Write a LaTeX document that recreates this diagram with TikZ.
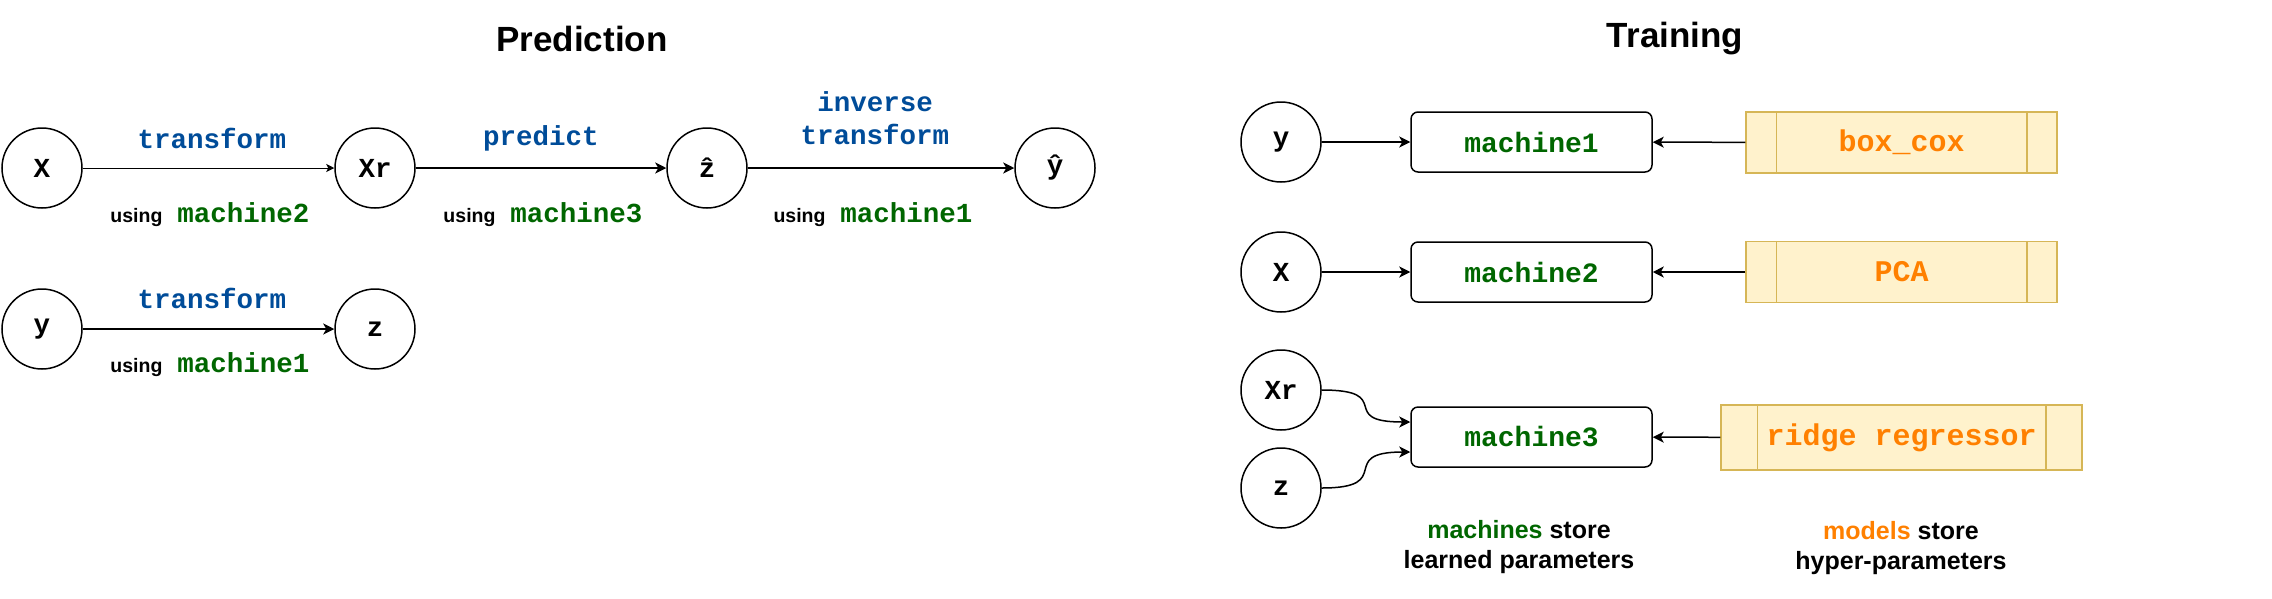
\documentclass[tikz,border=0pt]{standalone}
\usepackage{fontspec}
\setmainfont{Liberation Sans}
\setsansfont{Liberation Sans}
\setmonofont{Liberation Mono}
\usetikzlibrary{arrows.meta}
\definecolor{cblue}{HTML}{004C99}
\definecolor{cgreen}{HTML}{006600}
\definecolor{corange}{HTML}{FF8000}
\definecolor{cfill}{HTML}{FFF2CC}
\definecolor{cstroke}{HTML}{D6B656}
\newcommand\usingf{\sffamily\bfseries\fontsize{19.5}{23}\selectfont}
\newcommand\monof{\ttfamily\bfseries\fontsize{27.5}{33}\selectfont}
\newcommand\hatted[1]{\accent"02C6 #1}
\begin{document}
\begin{tikzpicture}[x=1pt, y=-1pt,
  circ/.style={circle, draw, line width=1.5pt, minimum size=80pt, inner sep=0pt, font=\monof},
  mach/.style={draw, rounded corners=7pt, line width=1.5pt, minimum width=241pt, minimum height=60pt, inner sep=0pt, text=cgreen, font=\ttfamily\bfseries\fontsize{28}{33}\selectfont},
  model/.style={draw=cstroke, fill=cfill, line width=1.5pt, minimum width=311pt, minimum height=61pt, inner sep=0pt, text=corange, font=\ttfamily\bfseries\fontsize{30}{35}\selectfont},
  op/.style={text=cblue, font=\monof, align=center},
  uselbl/.style={inner sep=0pt},
  ttl/.style={font=\sffamily\bfseries\fontsize{35}{42}\selectfont},
  note/.style={font=\sffamily\bfseries\fontsize{25}{30}\selectfont, align=center},
  arr/.style={line width=1.5pt, -{Stealth[length=11pt, width=11pt, inset=3pt]}},
  thinarr/.style={line width=1pt, -{Stealth[length=8pt, width=8pt, inset=2pt]}},
  sideline/.style={draw=cstroke, line width=1.5pt}
]
\useasboundingbox (0,0) rectangle (2272,598);

% ---------- Prediction ----------
\node[ttl] (tp) at (582,39) {Prediction};

\node[circ] (pX)  at (42,168)   {X};
\node[circ] (pXr) at (375,168)  {Xr};
\node[circ] (pzh) at (707,168)  {\hatted{z}};
\node[circ] (pyh) at (1055,168) {\hatted{y}};

\draw[thinarr] (pX) -- (pXr);
\draw[arr, line width=2pt] (pXr) -- (pzh);
\draw[arr, line width=2pt] (pzh) -- (pyh);

\node[op] (l1) at (212,138) {transform};
\node[op] (l2) at (541,138) {predict};
\node[op] (l3) at (875,118) {inverse\\transform};

\node[uselbl] (u1) at (210,215) {{\usingf using}\hspace{15pt}{\monof\color{cgreen}machine2}};
\node[uselbl] (u2) at (543,215) {{\usingf using}\hspace{15pt}{\monof\color{cgreen}machine3}};
\node[uselbl] (u3) at (873,215) {{\usingf using}\hspace{15pt}{\monof\color{cgreen}machine1}};

\node[circ] (py) at (42,329)  {y};
\node[circ] (pz) at (375,329) {z};
\draw[arr] (py) -- (pz);
\node[op] (l4) at (212,298) {transform};
\node[uselbl] (u4) at (210,365) {{\usingf using}\hspace{15pt}{\monof\color{cgreen}machine1}};

% ---------- Training ----------
\node[ttl] (tt) at (1675,39) {Training};

\node[circ] (ty)  at (1281,142) {y};
\node[circ] (tX)  at (1281,272) {X};
\node[circ] (tXr) at (1281,390) {Xr};
\node[circ] (tz)  at (1281,488) {z};

\node[mach] (m1) at (1531.5,142) {machine1};
\node[mach] (m2) at (1531.5,272) {machine2};
\node[mach] (m3) at (1531.5,437) {machine3};

\node[model] (bc)  at (1901.5,142.5) {box\_cox};
\node[model] (pca) at (1901.5,272) {PCA};
\node[model, minimum width=361pt, minimum height=65pt] (rr) at (1901.5,437.5) {ridge regressor};

\foreach \b/\w in {bc/31, pca/31, rr/37} {
  \draw[sideline] ([xshift=\w pt]\b.north west) -- ([xshift=\w pt]\b.south west);
  \draw[sideline] ([xshift=-\w pt]\b.north east) -- ([xshift=-\w pt]\b.south east);
}

\draw[arr] (ty) -- (m1);
\draw[arr] (tX) -- (m2);
\draw[arr] (bc) -- (m1);
\draw[arr] (pca) -- (m2);
\draw[arr] (rr) -- (m3);

\draw[arr] (tXr.east) .. controls +(75,0) and +(-75,0) .. ([yshift=15pt]m3.west);
\draw[arr] (tz.east) .. controls +(75,0) and +(-75,0) .. ([yshift=-15pt]m3.west);

\node[note] (n1) at (1519,547) {{\color{cgreen}machines} store\\learned parameters};
\node[note] (n2) at (1901,548) {{\color{corange}models} store\\hyper-parameters};
\end{tikzpicture}
\end{document}
